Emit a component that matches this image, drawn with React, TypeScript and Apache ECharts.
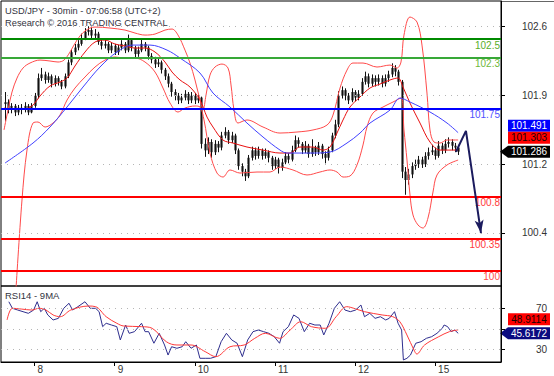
import React, { useEffect, useRef } from 'react';
import * as echarts from 'echarts';

const FONT = '"Liberation Sans", Arial, Helvetica, sans-serif';

// ---- price bars (hourly sampling, hour 0 = start of day "8") ----
const firstHour = -9;
const firstOpen = 101.8;
const closes = [
  101.82, 101.74, 101.78, 101.71, 101.76, 101.74, 101.78, 101.71, 101.78,
  101.89, 102.08, 102.12, 102.06, 102.1, 102.02, 102.08, 102.04, 101.99, 102.1,
  102.25, 102.36, 102.41, 102.45, 102.51, 102.58, 102.6, 102.54, 102.56, 102.47,
  102.43, 102.45, 102.38, 102.43, 102.36, 102.41, 102.45, 102.38, 102.49, 102.41,
  102.34, 102.38, 102.45, 102.41, 102.32, 102.28, 102.23, 102.25, 102.17, 102.1,
  102.02, 101.93, 101.89, 101.84, 101.87, 101.91, 101.84, 101.89, 101.84, 101.87,
  101.37, 101.3, 101.39, 101.28, 101.37, 101.33, 101.46, 101.5, 101.41, 101.46,
  101.3, 101.13, 101.07, 101.02, 101.22, 101.3, 101.24, 101.3, 101.24, 101.28,
  101.22, 101.13, 101.2, 101.11, 101.17, 101.24, 101.2, 101.3, 101.41, 101.37,
  101.3, 101.35, 101.26, 101.33, 101.28, 101.35, 101.26, 101.22, 101.3, 101.46,
  101.58, 101.89, 101.95, 101.89, 101.84, 101.93, 101.87, 101.91, 102.04, 102.1,
  102.02, 102.08, 102.04, 102.08, 102.02, 102.08, 102.12, 102.19, 102.15, 102.04,
  101.07, 100.98, 101.04, 101.13, 101.15, 101.2, 101.15, 101.24, 101.28, 101.3,
  101.24, 101.35, 101.3, 101.37, 101.39, 101.35, 101.33, 101.286,
];
const highs = [
  101.93, 101.85, 101.81, 101.8, 101.79, 101.8, 101.82, 101.8, 101.81,
  101.92, 102.13, 102.19, 102.15, 102.14, 102.12, 102.11, 102.1, 102.06, 102.13,
  102.28, 102.39, 102.45, 102.49, 102.56, 102.62, 102.64, 102.63, 102.61, 102.58,
  102.5, 102.49, 102.47, 102.46, 102.45, 102.44, 102.49, 102.47, 102.55, 102.51,
  102.43, 102.42, 102.51, 102.47, 102.43, 102.35, 102.31, 102.3, 102.27, 102.19,
  102.13, 102.04, 101.96, 101.92, 101.91, 101.95, 101.93, 101.93, 101.92, 101.9,
  101.88, 101.43, 101.44, 101.42, 101.41, 101.4, 101.5, 101.55, 101.52, 101.5,
  101.48, 101.32, 101.16, 101.1, 101.25, 101.34, 101.33, 101.34, 101.32, 101.32,
  101.3, 101.24, 101.23, 101.22, 101.21, 101.28, 101.27, 101.35, 101.46, 101.44,
  101.39, 101.4, 101.37, 101.42, 101.35, 101.39, 101.37, 101.29, 101.34, 101.49,
  101.63, 101.94, 101.99, 101.97, 101.92, 101.97, 101.95, 101.95, 102.08, 102.15,
  102.13, 102.12, 102.11, 102.12, 102.11, 102.12, 102.16, 102.24, 102.22, 102.17,
  102.06, 101.12, 101.1, 101.17, 101.2, 101.24, 101.23, 101.28, 101.33, 101.36,
  101.33, 101.4, 101.38, 101.42, 101.44, 101.42, 101.38, 101.36,
];
const lows = [
  101.62, 101.7, 101.7, 101.67, 101.68, 101.69, 101.71, 101.68, 101.7,
  101.76, 101.86, 102.05, 102.02, 102.03, 101.98, 101.99, 102.0, 101.96, 101.97,
  102.08, 102.22, 102.33, 102.38, 102.43, 102.49, 102.54, 102.5, 102.51, 102.44,
  102.39, 102.4, 102.35, 102.35, 102.33, 102.33, 102.38, 102.35, 102.36, 102.37,
  102.3, 102.31, 102.36, 102.37, 102.28, 102.24, 102.19, 102.2, 102.13, 102.06,
  101.98, 101.88, 101.84, 101.8, 101.81, 101.84, 101.8, 101.81, 101.8, 101.81,
  101.32, 101.23, 101.26, 101.22, 101.25, 101.28, 101.3, 101.43, 101.37, 101.38,
  101.26, 101.09, 101.02, 100.97, 101.0, 101.19, 101.2, 101.21, 101.2, 101.21,
  101.17, 101.09, 101.1, 101.05, 101.08, 101.15, 101.16, 101.18, 101.28, 101.33,
  101.26, 101.27, 101.22, 101.23, 101.24, 101.25, 101.21, 101.16, 101.19, 101.28,
  101.43, 101.55, 101.86, 101.84, 101.8, 101.82, 101.83, 101.84, 101.89, 102.01,
  101.98, 101.99, 101.99, 102.0, 101.98, 101.99, 102.04, 102.09, 102.1, 102.0,
  101.0, 100.82, 100.93, 101.0, 101.09, 101.11, 101.11, 101.12, 101.2, 101.25,
  101.2, 101.22, 101.26, 101.27, 101.33, 101.3, 101.28, 101.25,
];

// ---- indicators: [hour, value] ----
const maBlue = [
  [-8.87, 101.163], [-0.48, 101.379], [4.61, 101.552], [9.71, 101.768], [14.5, 101.984],
  [19.59, 102.2], [24.69, 102.362], [29.48, 102.437], [34.58, 102.437], [39.67, 102.383],
  [43.57, 102.297], [49.56, 102.135], [53.45, 101.919], [58.55, 101.768], [63.64, 101.595],
  [68.44, 101.444], [73.53, 101.303], [75.63, 101.271], [83.42, 101.271], [88.52, 101.282],
  [93.61, 101.379], [97.51, 101.487], [100.5, 101.595], [106.49, 101.735], [109.49, 101.865],
  [112.49, 101.822], [118.48, 101.714], [123.57, 101.595], [126.9, 101.491],
];
const bbUpper = [
  [-9.17, 101.52], [-7.97, 101.736], [-6.77, 101.93], [-5.27, 102.081], [-3.47, 102.189],
  [-1.38, 102.243], [1.62, 102.275], [4.61, 102.265], [7.01, 102.254], [8.81, 102.275],
  [10.61, 102.362], [12.7, 102.491], [15.1, 102.589], [18.1, 102.632], [22.59, 102.621],
  [27.09, 102.599], [30.08, 102.567], [33.08, 102.545], [36.08, 102.556], [39.07, 102.599],
  [41.17, 102.61], [42.97, 102.545], [45.06, 102.383], [46.56, 102.243], [48.06, 102.06],
  [49.56, 101.843], [50.46, 101.736], [51.36, 101.897], [52.55, 102.113], [54.05, 102.2],
  [56.15, 102.232], [57.95, 102.189], [58.85, 102.006], [59.75, 101.736], [60.94, 101.595],
  [63.64, 101.628], [68.44, 101.552], [73.53, 101.487], [78.62, 101.498], [83.42, 101.52],
  [87.61, 101.573], [89.41, 101.681], [91.51, 101.973], [93.61, 102.167], [95.4, 102.243],
  [98.4, 102.243], [102.59, 102.2], [106.49, 102.221], [108.58, 102.189], [109.78, 102.254],
  [110.68, 102.545], [112.48, 102.74], [114.58, 102.686], [116.07, 102.437], [117.57, 101.919],
  [118.47, 101.52], [119.67, 101.39], [121.47, 101.379], [123.57, 101.412], [126.9, 101.412],
];
const bbMiddle = [
  [-9.17, 101.757], [-5.87, 101.746], [-2.88, 101.746], [-0.48, 101.79], [1.62, 101.887],
  [4.61, 101.995], [7.61, 102.038], [9.71, 102.081], [12.1, 102.211], [15.1, 102.362],
  [18.1, 102.47], [21.09, 102.491], [24.09, 102.448], [27.09, 102.427], [30.08, 102.405],
  [33.08, 102.405], [36.08, 102.362], [39.07, 102.254], [41.17, 102.146], [43.57, 102.06],
  [46.56, 101.984], [49.56, 101.843], [51.66, 101.66], [53.45, 101.552], [56.45, 101.411],
  [59.45, 101.379], [63.64, 101.336], [68.44, 101.303], [73.53, 101.271], [76.52, 101.271],
  [79.52, 101.336], [83.42, 101.336], [86.41, 101.303], [88.51, 101.336], [90.61, 101.487],
  [92.41, 101.628], [94.5, 101.768], [97.5, 101.876], [100.49, 101.973], [103.49, 102.016],
  [106.49, 102.06], [108.88, 102.081], [110.38, 101.984], [112.48, 101.811], [115.48, 101.595],
  [118.47, 101.39], [121.47, 101.303], [124.47, 101.303], [126.9, 101.303],
];
const bbLower = [
  [-5.6, 99.79], [-3.78, 100.764], [-2.28, 101.303], [-0.48, 101.595], [1.02, 101.606],
  [3.12, 101.552], [5.51, 101.595], [7.61, 101.681], [9.71, 101.843], [12.1, 101.973],
  [15.1, 102.092], [18.1, 102.2], [21.09, 102.275], [24.09, 102.308], [27.09, 102.297],
  [30.08, 102.297], [33.08, 102.254], [36.08, 102.146], [38.47, 101.973], [40.57, 101.811],
  [42.97, 101.714], [45.06, 101.757], [48.06, 101.779], [49.56, 101.768], [50.76, 101.628],
  [52.55, 101.271], [54.65, 101.055], [56.45, 101.012], [58.55, 101.088], [61.54, 101.055],
  [66.64, 101.066], [70.53, 101.066], [73.53, 101.12], [77.42, 101.088], [81.62, 101.034],
  [85.51, 101.066], [88.51, 101.088], [90.61, 101.066], [92.41, 101.012], [94.5, 101.023],
  [96.6, 101.142], [98.4, 101.358], [99.59, 101.552], [101.39, 101.703], [104.39, 101.768],
  [107.39, 101.822], [109.78, 101.865], [110.68, 101.52], [111.58, 101.195], [112.48, 100.818],
  [113.38, 100.602], [114.88, 100.494], [116.37, 100.461], [117.87, 100.569], [119.37, 100.85],
  [120.57, 101.034], [123.57, 101.142], [126.9, 101.195],
];

const rsi14 = [
  [-7.72, 76.4], [-6.66, 70.0], [-5.06, 68.3], [-3.47, 66.7], [-1.88, 65.1], [-0.29, 68.3],
  [0.77, 76.4], [1.83, 66.7], [2.89, 70.0], [3.95, 63.5], [5.54, 58.6], [7.13, 60.2],
  [8.72, 70.0], [10.31, 74.9], [11.37, 68.3], [12.97, 71.6], [15.09, 76.4], [16.68, 70.0],
  [18.27, 70.0], [19.33, 66.7], [20.39, 52.1], [21.44, 55.4], [23.03, 53.7], [24.62, 52.1],
  [25.68, 39.1], [27.27, 53.7], [28.33, 45.6], [29.92, 47.2], [32.04, 55.4], [33.1, 47.2],
  [34.16, 47.2], [35.75, 35.9], [37.34, 45.6], [38.93, 34.2], [39.99, 24.4], [41.05, 32.5],
  [42.64, 31.0], [44.23, 32.5], [45.29, 37.4], [46.88, 31.0], [48.47, 34.2], [49.53, 21.2],
  [51.12, 21.2], [52.71, 21.2], [54.3, 22.8], [55.89, 37.4], [57.48, 45.6], [59.08, 39.1],
  [60.67, 35.9], [62.26, 22.8], [63.85, 39.1], [65.44, 47.2], [67.03, 48.8], [68.62, 47.2],
  [70.21, 45.6], [71.8, 42.3], [73.39, 35.9], [74.45, 47.2], [76.04, 52.1], [77.63, 63.5],
  [79.22, 60.2], [80.81, 47.2], [82.4, 55.4], [83.99, 53.7], [85.58, 53.7], [86.64, 44.0],
  [88.23, 55.4], [89.82, 70.0], [91.41, 76.4], [93.0, 68.3], [94.6, 66.7], [96.19, 68.3],
  [97.78, 73.2], [98.84, 61.8], [100.43, 65.1], [102.02, 60.2], [103.61, 61.8], [105.2, 58.6],
  [106.26, 60.2], [107.85, 66.7], [108.91, 55.4], [109.97, 48.8], [110.5, 19.6], [111.56, 21.2],
  [112.62, 24.4], [114.21, 35.9], [115.8, 37.4], [117.39, 40.7], [118.98, 42.3], [120.57, 45.6],
  [122.16, 50.5], [122.7, 53.7], [123.75, 52.1], [124.82, 47.2], [125.87, 48.8], [126.93, 45.6],
];
const rsiMa9 = [
  [-8.25, 58.6], [-6.66, 70.0], [-4.01, 69.3], [-0.83, 68.3], [1.3, 70.0], [3.42, 68.3],
  [5.54, 63.5], [7.66, 61.8], [10.84, 68.3], [16.14, 72.2], [18.27, 71.6], [21.44, 61.8],
  [24.62, 55.4], [26.73, 52.7], [32.04, 52.1], [35.22, 50.5], [39.46, 37.4], [42.64, 34.2],
  [46.88, 34.2], [51.12, 27.7], [54.3, 22.8], [58.55, 32.5], [62.79, 34.2], [65.97, 40.7],
  [69.15, 45.6], [73.39, 40.7], [76.57, 48.8], [79.76, 56.9], [82.94, 52.1], [87.16, 50.5],
  [90.35, 61.8], [93.53, 71.6], [95.66, 70.0], [98.84, 66.7], [104.14, 63.5], [107.32, 61.8],
  [109.44, 56.9], [111.56, 44.0], [113.68, 29.3], [114.52, 25.4], [116.85, 34.2], [121.11, 42.3],
  [124.29, 47.2], [126.93, 48.91],
];

// ---- levels, ticks, forecast ----
const levelValues = [102.5, 102.3, 101.75, 100.8, 100.35, 100];
const levelLabels = ['102.5', '102.3', '101.75', '100.8', '100.35', '100'];
const dayTickHours = [0, 24, 48, 72, 96, 120];
const dayLabels = ['8', '9', '10', '11', '12', '15'];
const priceTicks = [100.41, 101.152, 101.894, 102.636];
const rsiTicks = [30, 50, 70];
const rsiLabelValues = [30, 70];
const forecastPath = [[126.26, 101.285], [129.25, 101.51], [133.75, 100.407]];

const lastMa = 101.491;
const lastMid = 101.303;
const lastClose = 101.286;
const lastRsiMa = 48.9114;
const lastRsi = 45.6172;

const X_MIN = -10.07;
const X_MAX = 139.75;

const levelLineColors = ['#008a00', '#38a838', '#0000ff', '#ff0000', '#ff0000', '#ff0000'];
const levelLabelColors = ['#5aae2a', '#6fb83a', '#5050ff', '#ff3a3a', '#ff3a3a', '#ff4a4a'];

export default function App() {
  const ref = useRef<HTMLDivElement>(null);

  useEffect(() => {
    if (!ref.current) return;
    const chart = echarts.init(ref.current, null, { renderer: 'svg' });

    const bars = closes.map((c, i) => [
      firstHour + i,
      i === 0 ? firstOpen : closes[i - 1],
      c,
      lows[i],
      highs[i],
    ]);

    const line = (data: any, color: string, width: number, g: number, smooth: any, extra: any = {}) => ({
      type: 'line',
      xAxisIndex: g,
      yAxisIndex: g,
      data,
      symbol: 'none',
      smooth,
      silent: true,
      lineStyle: { color, width },
      ...extra,
    });

    const option: any = {
      animation: false,
      backgroundColor: '#ffffff',
      textStyle: { fontFamily: FONT },
      grid: [
        { left: 1, right: 53, top: 1, height: 285, show: true, borderColor: '#000', borderWidth: 1, backgroundColor: 'transparent' },
        { left: 1, right: 53, top: 286, height: 76, show: true, borderColor: '#000', borderWidth: 1, backgroundColor: 'transparent' },
      ],
      xAxis: [
        { type: 'value', gridIndex: 0, min: X_MIN, max: X_MAX, show: false, axisLine: { onZero: false } },
        {
          type: 'value', gridIndex: 1, min: X_MIN, max: X_MAX,
          axisLine: { show: true, onZero: false, lineStyle: { color: '#000' } },
          axisTick: { show: true, customValues: dayTickHours, length: 4, lineStyle: { color: '#000' } },
          axisLabel: {
            customValues: dayTickHours,
            formatter: (v: number) => dayLabels[dayTickHours.indexOf(Math.round(v))] ?? '',
            align: 'left', padding: [0, 0, 0, 3], margin: 2, fontSize: 10, color: '#333', fontFamily: FONT,
          },
          splitLine: { show: false },
        },
      ],
      yAxis: [
        {
          type: 'value', gridIndex: 0, position: 'right', min: 99.835, max: 102.913,
          axisLine: { show: true, onZero: false, lineStyle: { color: '#000' } },
          axisTick: { show: true, customValues: priceTicks, length: 4, lineStyle: { color: '#000' } },
          axisLabel: {
            customValues: priceTicks, formatter: (v: number) => v.toFixed(1),
            margin: 46, align: 'right', fontSize: 10, color: '#333', fontFamily: FONT,
          },
          splitLine: { show: false },
        },
        {
          type: 'value', gridIndex: 1, position: 'right', min: 17.6, max: 91.76,
          axisLine: { show: true, onZero: false, lineStyle: { color: '#000' } },
          axisTick: { show: true, customValues: rsiTicks, length: 4, lineStyle: { color: '#000' } },
          axisLabel: {
            customValues: rsiLabelValues, formatter: (v: number) => String(Math.round(v)),
            margin: 46, align: 'right', fontSize: 10, color: '#333', fontFamily: FONT,
          },
          splitLine: { show: false },
        },
      ],
      series: [
        {
          type: 'custom',
          xAxisIndex: 0,
          yAxisIndex: 0,
          clip: true,
          silent: true,
          encode: { x: 0, y: [1, 2, 3, 4] },
          data: bars,
          renderItem: (_p: any, api: any) => {
            const x = api.value(0);
            const pO = api.coord([x, api.value(1)]);
            const pC = api.coord([x, api.value(2)]);
            const pL = api.coord([x, api.value(3)]);
            const pH = api.coord([x, api.value(4)]);
            const top = Math.min(pO[1], pC[1]);
            const hgt = Math.max(1, Math.abs(pO[1] - pC[1]));
            const cx = Math.round(pO[0]) + 0.5;
            return {
              type: 'group',
              children: [
                { type: 'rect', shape: { x: cx - 1.5, y: top, width: 3, height: hgt }, style: { fill: '#7a7a7a' } },
                { type: 'line', shape: { x1: cx, y1: pH[1], x2: cx, y2: pL[1] }, style: { stroke: '#111', lineWidth: 1 } },
              ],
            };
          },
        },
        line(bbMiddle, '#e81010', 1, 0, 0.35, {
          markLine: {
            silent: true, symbol: 'none', animation: false,
            label: { show: false },
            lineStyle: { color: '#b5b5b5', width: 1, type: [1, 5] },
            data: priceTicks.map((v) => ({ yAxis: v })),
          },
        }),
        line(bbUpper, '#ff4a4a', 1, 0, 0.35),
        line(bbLower, '#ff4a4a', 1, 0, 0.35),
        line(maBlue, '#4040ff', 1, 0, 0.35, {
          markLine: {
            silent: true, symbol: 'none', animation: false,
            data: levelValues.map((v, i) => ({
              yAxis: v,
              lineStyle: { color: levelLineColors[i], width: 2, type: 'solid' },
              label: {
                show: true, position: 'insideEndBottom', formatter: levelLabels[i],
                color: levelLabelColors[i], fontSize: 10, fontFamily: FONT, distance: [1, 1],
              },
            })),
          },
        }),
        line(forecastPath, '#1b1b5e', 2, 0, false, { clip: false, z: 5 }),
        line(rsi14, '#2e2e8e', 1, 1, false),
        line(rsiMa9, '#ff3a3a', 1, 1, 0.35, {
          markLine: {
            silent: true, symbol: 'none', animation: false,
            label: { show: false },
            lineStyle: { color: '#b5b5b5', width: 1, type: [1, 5] },
            data: rsiTicks.map((v) => ({ yAxis: v })),
          },
        }),
      ],
    };

    chart.setOption(option);

    const toPx = (g: number, pt: number[]) => chart.convertToPixel({ gridIndex: g } as any, pt) as number[];
    const yClose = toPx(0, [0, lastClose])[1];
    const yRsi = toPx(1, [0, lastRsi])[1];
    const a1 = toPx(0, forecastPath[1]);
    const a2 = toPx(0, forecastPath[2]);
    const dx = a2[0] - a1[0];
    const dy = a2[1] - a1[1];
    const len = Math.sqrt(dx * dx + dy * dy) || 1;
    const ux = dx / len;
    const uy = dy / len;
    const bx = a2[0] - ux * 13;
    const by = a2[1] - uy * 13;
    const nx = a2[0] - ux * 10;
    const ny = a2[1] - uy * 10;

    const font = `10px ${FONT}`;
    const titleFont = `9.3px ${FONT}`;
    const boxTag = (yc: number, fill: string, color: string, text: string) => ({
      type: 'group', z: 100,
      children: [
        { type: 'rect', shape: { x: 508, y: yc - 6, width: 42, height: 12 }, style: { fill } },
        { type: 'text', x: 529, y: yc, style: { text, fill: color, font, align: 'center', verticalAlign: 'middle' } },
      ],
    });
    const pointerTag = (yc: number, fill: string, color: string, text: string) => ({
      type: 'group', z: 100,
      children: [
        { type: 'polygon', shape: { points: [[500, yc], [508, yc - 6], [550, yc - 6], [550, yc + 6], [508, yc + 6]] }, style: { fill } },
        { type: 'text', x: 529, y: yc, style: { text, fill: color, font, align: 'center', verticalAlign: 'middle' } },
      ],
    });

    chart.setOption({
      graphic: [
        { type: 'line', shape: { x1: 501, y1: 1.5, x2: 554, y2: 1.5 }, style: { stroke: '#666', lineWidth: 1 } },
        { type: 'text', x: 5, y: 10.5, style: { text: 'USD/JPY - 30min - 07:06:58 (UTC+2)', fill: '#333340', font: titleFont, verticalAlign: 'middle' } },
        { type: 'text', x: 5, y: 22.5, style: { text: 'Research \u00a9 2016 TRADING CENTRAL', fill: '#333340', font: titleFont, verticalAlign: 'middle' } },
        { type: 'text', x: 5, y: 295, style: { text: 'RSI14 - 9MA', fill: '#333340', font: `9.5px ${FONT}`, verticalAlign: 'middle' } },
        {
          type: 'polygon', z: 6,
          shape: { points: [[a2[0], a2[1]], [bx - uy * 4.5, by + ux * 4.5], [nx, ny], [bx + uy * 4.5, by - ux * 4.5]] },
          style: { fill: '#1b1b5e' },
        },
        boxTag(yClose - 26, '#0000ff', '#ffffff', lastMa.toFixed(3)),
        boxTag(yClose - 14, '#ff0000', '#1a0000', lastMid.toFixed(3)),
        pointerTag(yClose, '#000000', '#ffffff', lastClose.toFixed(3)),
        boxTag(yRsi - 14, '#ff0000', '#1a0000', lastRsiMa.toFixed(4)),
        pointerTag(yRsi, '#0a0a80', '#ffffff', lastRsi.toFixed(4)),
      ],
    });

    return () => chart.dispose();
  }, []);

  return (
    <div
      ref={ref}
      style={{ position: 'fixed', left: 0, top: 0, width: 554, height: 376, background: '#fff' }}
    />
  );
}
